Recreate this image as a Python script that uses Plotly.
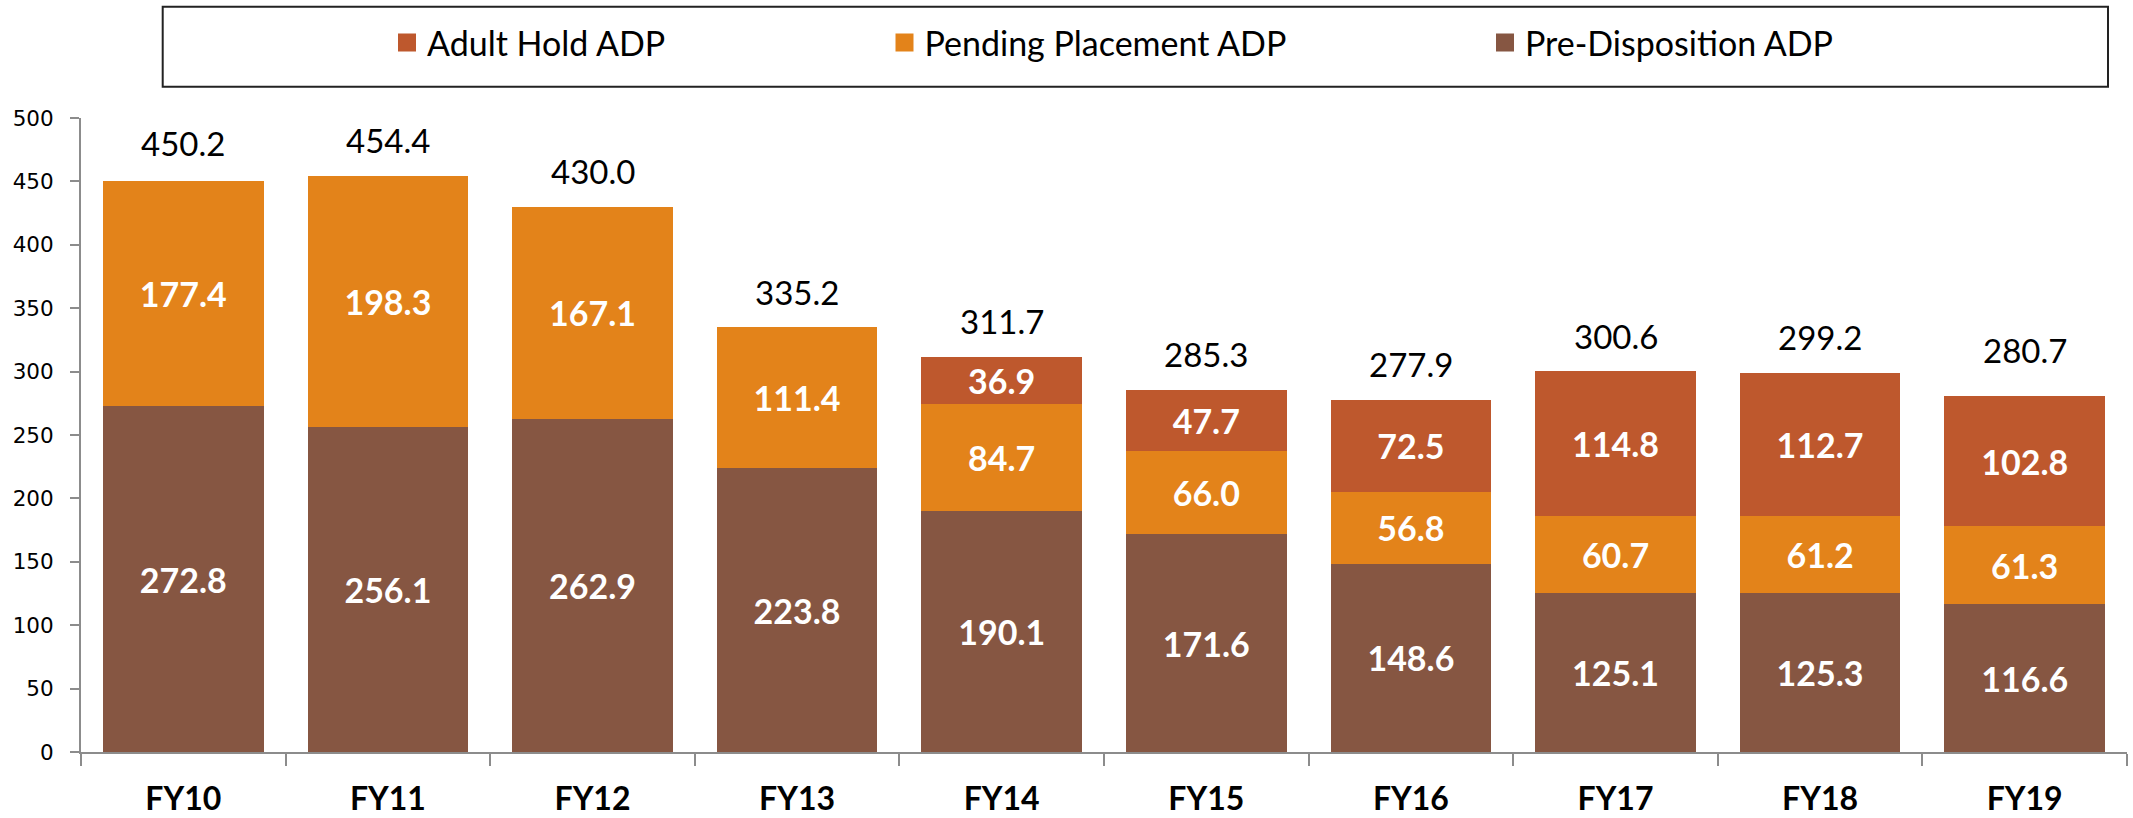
import plotly.graph_objects as go

categories = ["FY10", "FY11", "FY12", "FY13", "FY14", "FY15", "FY16", "FY17", "FY18", "FY19"]
pre_disposition = [272.8, 256.1, 262.9, 223.8, 190.1, 171.6, 148.6, 125.1, 125.3, 116.6]
pending_placement = [177.4, 198.3, 167.1, 111.4, 84.7, 66.0, 56.8, 60.7, 61.2, 61.3]
adult_hold = [None, None, None, None, 36.9, 47.7, 72.5, 114.8, 112.7, 102.8]
totals = [450.2, 454.4, 430.0, 335.2, 311.7, 285.3, 277.9, 300.6, 299.2, 280.7]
y_ticks = [0, 50, 100, 150, 200, 250, 300, 350, 400, 450, 500]

C_PRE = "#865642"
C_PEND = "#E3831A"
C_ADULT = "#BE582D"
FONT = "Lato"
W, H = 2133, 818

# pixel gap between bar top and the total label baseline (layout only)
label_gaps = [24, 22, 22, 21, 22, 22, 22, 21, 22, 32]

fig = go.Figure()
inside_font = dict(family=FONT, size=34, color="white", weight="bold")
for name, vals, col in [("Pre-Disposition ADP", pre_disposition, C_PRE),
                        ("Pending Placement ADP", pending_placement, C_PEND),
                        ("Adult Hold ADP", adult_hold, C_ADULT)]:
    fig.add_trace(go.Bar(
        x=categories, y=vals, name=name, marker=dict(color=col, line=dict(width=0)),
        texttemplate="%{y:.1f}", textposition="inside", insidetextanchor="middle",
        textfont=inside_font, constraintext="none", showlegend=False,
        hoverinfo="skip"))

# legend-only entries
legend_names = ["Adult Hold ADP", "Pending Placement ADP", "Pre-Disposition ADP"]
legend_cols = [C_ADULT, C_PEND, C_PRE]
legend_ids = ["legend", "legend2", "legend3"]
for nm, col, lid in zip(legend_names, legend_cols, legend_ids):
    fig.add_trace(go.Scatter(x=[None], y=[None], mode="markers", name=nm,
                             marker=dict(symbol="square", size=16, color=col,
                                         line=dict(width=2, color=col)),
                             legend=lid, showlegend=True, hoverinfo="skip"))

for c, t, g in zip(categories, totals, label_gaps):
    fig.add_annotation(x=c, y=t, text=f"{t:.1f}", showarrow=False,
                       yanchor="bottom", yshift=g - 8,
                       font=dict(family=FONT, size=33, color="black"))

leg_common = dict(orientation="h", yanchor="middle", y=(H - 43) / H, xanchor="left",
                  xref="container", yref="container",
                  font=dict(family=FONT, size=34, color="black"),
                  bgcolor="rgba(0,0,0,0)", borderwidth=0)

L, R, T, B = 81, 6, 118, 66
pw, ph = W - L - R, H - T - B


def px_x(p):
    return (p - L) / pw


def px_y(p):
    return (H - B - p) / ph


fig.update_layout(
    barmode="stack", bargap=0.215,
    width=W, height=H,
    margin=dict(l=L, r=R, t=T, b=B, autoexpand=False),
    plot_bgcolor="white", paper_bgcolor="white",
    legend=dict(x=387 / W, **leg_common),
    legend2=dict(x=884.5 / W, **leg_common),
    legend3=dict(x=1485 / W, **leg_common),
    xaxis=dict(showline=True, linecolor="#8c8c8c", linewidth=2,
               ticks="outside", tickson="boundaries", ticklen=12, tickcolor="#8c8c8c",
               tickwidth=2, ticklabelstandoff=18,
               tickfont=dict(family=FONT, size=32, color="black", weight="bold"),
               showgrid=False, zeroline=False),
    yaxis=dict(range=[0, 500], tickvals=y_ticks, showline=True, linecolor="#8c8c8c",
               linewidth=2, ticks="outside", ticklen=9, tickcolor="#8c8c8c", tickwidth=2,
               ticklabelstandoff=12,
               tickfont=dict(family="DejaVu Sans", size=21.5, color="black"),
               showgrid=False, zeroline=False),
    shapes=[dict(type="rect", xref="paper", yref="paper", x0=px_x(162.7), x1=px_x(2108),
                 y0=px_y(86.7), y1=px_y(6.7), line=dict(color="#222", width=2),
                 fillcolor="rgba(0,0,0,0)", layer="above")],
)

fig.write_html("out.html", config={"displayModeBar": False},
               post_script="document.body.style.margin='0px';document.body.style.overflow='hidden';")
